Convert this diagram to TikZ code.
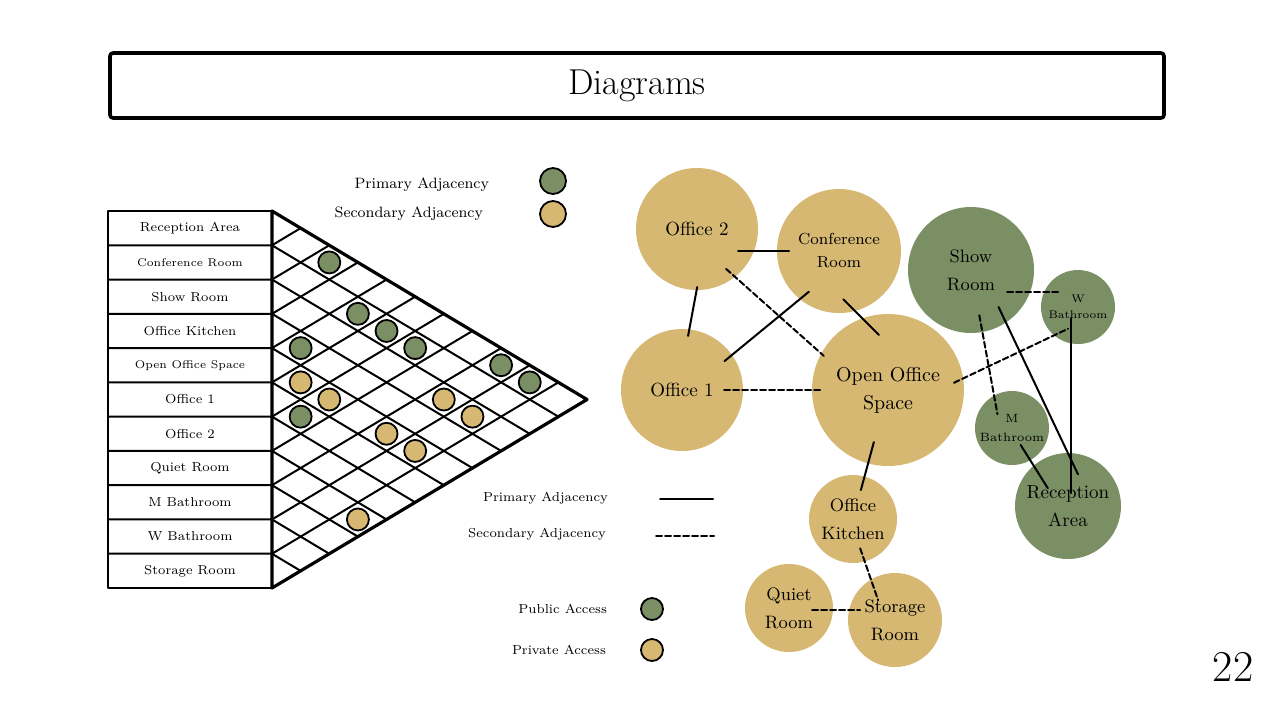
\documentclass[tikz,border=0pt]{standalone}
\usepackage{xcolor}
\usepackage{tikz}
\usetikzlibrary{arrows,calc}
\definecolor{ttzzqq}{rgb}{0.482,0.561,0.396}
\definecolor{ffcctt}{rgb}{0.839,0.722,0.447}
\newcommand{\szf}[1]{\fontsize{#1}{#1}\selectfont}

\begin{document}
\begin{tikzpicture}[line cap=round,line join=round,x=0.5pt,y=-0.5pt,
  room/.style={circle,fill=#1,inner sep=0pt,align=center},
  prim/.style={line width=1pt},
  sec/.style={line width=1pt,dash pattern=on 3pt off 1.5pt},
  dot/.style={draw,line width=0.9pt,fill=#1}]
\useasboundingbox [fill=white] (0,0) rectangle (1280,720);
% title
\node [draw,line width=1.8pt,rounded corners=1.5pt,minimum width=527pt,minimum height=32.5pt,font=\szf{18}] (title) at (637,85.5) {Diagrams};
\node [font=\szf{22}] (page) at (1233,667) {22};
% adjacency matrix
\coordinate (top) at (272,211);
\coordinate (bot) at (272,588);
\coordinate (apex) at (587,399.5);
\foreach \k in {1,...,10} {
  \draw [line width=1pt] ($(top)!\k/11!(bot)$) -- ($(apex)!\k/11!(bot)$);
  \draw [line width=1pt] ($(top)!\k/11!(bot)$) -- ($(top)!\k/11!(apex)$);
  \draw [line width=1pt] (108,{211+\k*377/11}) -- ($(top)!\k/11!(bot)$);
}
\draw [line width=1.2pt] (108,211) rectangle (272,588);
\draw [line width=1.6pt] (top) -- (apex) -- (bot) -- cycle;
\foreach \name/\fsz [count=\k from 0] in {Reception Area/6.5,Conference Room/5.6,Show Room/6.5,Office Kitchen/6.5,Open Office Space/5.6,Office 1/6.5,Office 2/6.5,Quiet Room/6.5,M Bathroom/6.5,W Bathroom/6.5,Storage Room/6.5}
  \node [font=\szf{\fsz}] (row\k) at (190,{211+(\k+0.5)*377/11}) {\name};
\foreach \i/\j in {0/2,1/4,1/5,1/6,3/4,0/8,0/9,5/6}
  \draw [dot=ttzzqq] ({272+315/11*(\j-\i)},{211+377/22*(\i+\j+1)}) circle (11);
\foreach \i/\j in {4/5,4/6,2/8,2/9,4/8,4/9,7/10}
  \draw [dot=ffcctt] ({272+315/11*(\j-\i)},{211+377/22*(\i+\j+1)}) circle (11);
% legends
\node [anchor=east,font=\szf{7.5}] (lgprim) at (496,185) {Primary Adjacency};
\node [anchor=east,font=\szf{7.5}] (lgsec) at (490,214) {Secondary Adjacency};
\draw [dot=ttzzqq] (553,181) circle (13);
\draw [dot=ffcctt] (553,214) circle (13);
\node [anchor=east,font=\szf{6.5}] (lnprim) at (615,498) {Primary Adjacency};
\node [anchor=east,font=\szf{6.5}] (lnsec) at (613,534) {Secondary Adjacency};
\draw [prim] (660,499) -- (713,499);
\draw [sec] (656,536) -- (714,536);
\node [anchor=east,font=\szf{6.5}] (lgpub) at (614,609) {Public Access};
\node [anchor=east,font=\szf{6.5}] (lgpriv) at (613,650) {Private Access};
\draw [dot=ttzzqq] (652,609) circle (11);
\draw [dot=ffcctt] (652,650) circle (11);
% bubble diagram
\node [room=ffcctt,minimum size=61pt,font=\szf{9.5}] (off2) at (697,229) {Office 2};
\node [room=ffcctt,minimum size=62pt,font=\fontsize{8}{11.5}\selectfont] (conf) at (839,251) {Conference\\Room};
\node [room=ttzzqq,minimum size=63pt,font=\fontsize{9}{14}\selectfont] (show) at (971,270) {Show\\Room};
\node [room=ttzzqq,minimum size=37pt,font=\fontsize{5.5}{8}\selectfont] (wbath) at (1078,307) {W\\Bathroom};
\node [room=ffcctt,minimum size=61pt,font=\szf{9.5}] (off1) at (682,390) {Office 1};
\node [room=ffcctt,minimum size=76pt,font=\fontsize{10}{14}\selectfont] (open) at (888,390) {Open Office\\Space};
\node [room=ttzzqq,minimum size=37pt,font=\fontsize{6}{9.5}\selectfont] (mbath) at (1012,428) {M\\Bathroom};
\node [room=ttzzqq,minimum size=53pt,font=\fontsize{9.5}{14}\selectfont] (recep) at (1068,506) {Reception\\Area};
\node [room=ffcctt,minimum size=44pt,font=\fontsize{9}{14}\selectfont] (kitch) at (853,519) {Office\\Kitchen};
\node [room=ffcctt,minimum size=44pt,font=\fontsize{9}{14}\selectfont] (quiet) at (789,608) {Quiet\\Room};
\node [room=ffcctt,minimum size=47pt,font=\fontsize{9}{14}\selectfont] (store) at (895,620) {Storage\\Room};
% adjacencies
\draw [prim,shorten <=20.5pt,shorten >=25pt] (off2.center |- conf.center) -- (conf.center);
\draw [prim,shorten <=29.5pt,shorten >=27.5pt] ([xshift=5.5pt]off2.center) -- ([xshift=-2pt]off1.center);
\draw [sec,shorten <=19.5pt,shorten >=43pt] ([yshift=-7pt]off2.center) -- ([yshift=-11.5pt]open.center);
\draw [prim,shorten <=19.5pt,shorten >=27.5pt] ([yshift=-8pt]conf.center) -- ([yshift=-3pt]off1.center);
\draw [prim,shorten <=3pt,shorten >=6.5pt] ([yshift=-22pt]conf.center) -- ([yshift=23pt]open.center);
\draw [sec,shorten <=21pt,shorten >=33pt] (off1.center) -- (open.center);
\draw [prim,shorten <=27pt,shorten >=15pt] (open.center) -- (kitch.center);
\draw [sec,shorten <=15.5pt,shorten >=10.5pt] ([xshift=-1.5pt]kitch.center) -- ([xshift=-5pt]store.center);
\draw [sec,shorten <=11.5pt,shorten >=17.5pt] ([yshift=-1pt]quiet.center) -- ([yshift=5pt]store.center);
\draw [sec,shorten <=18pt,shorten >=8.5pt] ([yshift=-11pt]show.center) -- ([yshift=7.5pt]wbath.center);
\draw [sec,shorten <=36.5pt,shorten >=5.5pt] ([yshift=-12pt]open.center) -- ([yshift=-8.5pt]wbath.center);
\draw [sec,shorten <=23pt,shorten >=7pt] (show.center) -- ([xshift=-6pt]mbath.center);
\draw [prim,shorten <=20.5pt,shorten >=17.5pt] ([xshift=5pt]show.center) -- ([xshift=12.5pt]recep.center);
\draw [prim,shorten <=5.5pt,shorten >=6.5pt] ([xshift=-3.5pt]wbath.center) -- ([xshift=1.5pt]recep.center);
\draw [prim,shorten <=10pt,shorten >=10.5pt] ([xshift=-1pt]mbath.center) -- ([xshift=-4.5pt]recep.center);
\end{tikzpicture}
\end{document}
